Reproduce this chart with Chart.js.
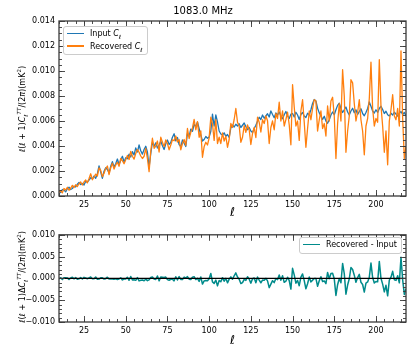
<!DOCTYPE html>
<html>
<head>
<meta charset="utf-8">
<script src="https://cdn.jsdelivr.net/npm/chart.js@4"></script>
<style>
  body { margin: 0; background: #fff; }
  #wrap { position: relative; width: 415px; height: 356px; font-family: "DejaVu Sans", sans-serif; }
  canvas { position: absolute; left: 0; }
  .leg { position: absolute; background: rgba(255,255,255,0.85); border: 1px solid #ccc; border-radius: 3px;
         padding: 1px 4px 1px 3px; font-size: 8px; color: #000; z-index: 2; }
  .leg .row { height: 12.5px; line-height: 12.5px; white-space: nowrap; }
  .leg .sw { display: inline-block; width: 17px; height: 1.6px; vertical-align: middle; margin-right: 6px; }
  .ytitle { position: absolute; width: 170px; height: 12px; line-height: 12px; text-align: center;
            font-size: 8px; color: #000; transform: rotate(-90deg); white-space: nowrap; z-index: 2; }
  sub, sup { font-size: 0.7em; line-height: 0; }
</style>
</head>
<body>
<div id="wrap">
  <canvas id="top" width="415" height="226" style="top:0"></canvas>
  <canvas id="bot" width="415" height="130" style="top:226px"></canvas>
  <div class="leg" style="left:63px;top:26px;">
    <div class="row"><span class="sw" style="background:#1f77b4"></span>Input <i>C</i><sub><i>ℓ</i></sub></div>
    <div class="row"><span class="sw" style="background:#ff7f0e"></span>Recovered <i>C</i><sub><i>ℓ</i></sub></div>
  </div>
  <div class="leg" style="left:299px;top:237px;">
    <div class="row"><span class="sw" style="background:#008b8b"></span>Recovered - Input</div>
  </div>
  <div class="ytitle" style="left:-62px;top:103px;"><i>ℓ</i>(<i>ℓ</i> + 1)<i>C</i><sub><i>ℓ</i></sub><sup><i>TT</i></sup>/(2<i>π</i>)(mK<sup>2</sup>)</div>
  <div class="ytitle" style="left:-62px;top:271px;"><i>ℓ</i>(<i>ℓ</i> + 1)Δ<i>C</i><sub><i>ℓ</i></sub><sup><i>TT</i></sup>/(2<i>π</i>)(mK<sup>2</sup>)</div>
</div>
<script>
// multipoles
const ells = [];
for (let l = 10; l <= 218; l++) ells.push(l);

// input power spectrum, l(l+1)C_l/2pi in mK^2
const inputCl = [
  0.00040, 0.00028, 0.00052, 0.00047, 0.00033, 0.00058, 0.00070, 0.00052, 0.00060, 0.00078,
  0.00072, 0.00094, 0.00108, 0.00092, 0.00101, 0.00088, 0.00118, 0.00112, 0.00128, 0.00146,
  0.00138, 0.00160, 0.00142, 0.00178, 0.00240, 0.00192, 0.00142, 0.00198, 0.00226, 0.00212,
  0.00184, 0.00238, 0.00275, 0.00232, 0.00258, 0.00296, 0.00252, 0.00286, 0.00318, 0.00272,
  0.00306, 0.00298, 0.00335, 0.00312, 0.00355, 0.00328, 0.00385, 0.00352, 0.00408, 0.00362,
  0.00335, 0.00372, 0.00398, 0.00352, 0.00230, 0.00338, 0.00430, 0.00398, 0.00425, 0.00384,
  0.00408, 0.00438, 0.00402, 0.00372, 0.00418, 0.00448, 0.00412, 0.00428, 0.00470, 0.00498,
  0.00442, 0.00468, 0.00412, 0.00395, 0.00448, 0.00422, 0.00396, 0.00500, 0.00478, 0.00535,
  0.00518, 0.00572, 0.00556, 0.00592, 0.00538, 0.00488, 0.00440, 0.00452, 0.00476, 0.00462,
  0.00472, 0.00518, 0.00655, 0.00560, 0.00648, 0.00592, 0.00520, 0.00496, 0.00488, 0.00505,
  0.00478, 0.00492, 0.00468, 0.00545, 0.00568, 0.00552, 0.00574, 0.00560, 0.00578, 0.00548,
  0.00566, 0.00584, 0.00556, 0.00530, 0.00548, 0.00520, 0.00508, 0.00540, 0.00566, 0.00598,
  0.00630, 0.00612, 0.00648, 0.00622, 0.00640, 0.00658, 0.00632, 0.00680, 0.00652, 0.00626,
  0.00664, 0.00648, 0.00672, 0.00640, 0.00618, 0.00650, 0.00676, 0.00642, 0.00620, 0.00655,
  0.00660, 0.00632, 0.00670, 0.00648, 0.00612, 0.00652, 0.00668, 0.00640, 0.00628, 0.00662,
  0.00650, 0.00690, 0.00740, 0.00772, 0.00760, 0.00702, 0.00665, 0.00640, 0.00612, 0.00638,
  0.00600, 0.00582, 0.00610, 0.00648, 0.00672, 0.00650, 0.00690, 0.00725, 0.00742, 0.00700,
  0.00668, 0.00690, 0.00712, 0.00672, 0.00648, 0.00680, 0.00702, 0.00666, 0.00690, 0.00652,
  0.00676, 0.00698, 0.00660, 0.00642, 0.00668, 0.00700, 0.00752, 0.00718, 0.00680, 0.00664,
  0.00690, 0.00668, 0.00700, 0.00718, 0.00692, 0.00660, 0.00678, 0.00650, 0.00640, 0.00662,
  0.00648, 0.00670, 0.00656, 0.00640, 0.00662, 0.00676, 0.00652, 0.00668, 0.00640
];

// recovered power spectrum
const recoveredCl = [
  0.00030, 0.00042, 0.00025, 0.00060, 0.00048, 0.00070, 0.00046, 0.00062, 0.00085, 0.00068,
  0.00090, 0.00076, 0.00098, 0.00112, 0.00088, 0.00112, 0.00128, 0.00105, 0.00140, 0.00178,
  0.00130, 0.00150, 0.00175, 0.00160, 0.00225, 0.00205, 0.00155, 0.00182, 0.00220, 0.00240,
  0.00172, 0.00225, 0.00262, 0.00215, 0.00248, 0.00270, 0.00238, 0.00300, 0.00282, 0.00258,
  0.00290, 0.00325, 0.00292, 0.00356, 0.00318, 0.00295, 0.00340, 0.00372, 0.00350, 0.00320,
  0.00300, 0.00318, 0.00380, 0.00300, 0.00195, 0.00360, 0.00462, 0.00382, 0.00400, 0.00440,
  0.00352, 0.00470, 0.00430, 0.00395, 0.00448, 0.00420, 0.00370, 0.00408, 0.00450, 0.00442,
  0.00480, 0.00432, 0.00452, 0.00370, 0.00420, 0.00452, 0.00405, 0.00540, 0.00460, 0.00510,
  0.00545, 0.00612, 0.00530, 0.00595, 0.00470, 0.00520, 0.00310, 0.00395, 0.00430, 0.00408,
  0.00465, 0.00630, 0.00575, 0.00445, 0.00610, 0.00420, 0.00470, 0.00420, 0.00505, 0.00440,
  0.00478, 0.00390, 0.00452, 0.00580, 0.00548, 0.00612, 0.00700, 0.00590, 0.00560, 0.00430,
  0.00470, 0.00562, 0.00510, 0.00568, 0.00530, 0.00412, 0.00500, 0.00548, 0.00468, 0.00630,
  0.00590, 0.00512, 0.00610, 0.00580, 0.00640, 0.00602, 0.00420, 0.00548, 0.00600, 0.00530,
  0.00660, 0.00620, 0.00750, 0.00600, 0.00680, 0.00560, 0.00612, 0.00670, 0.00570, 0.00410,
  0.00890, 0.00712, 0.00560, 0.00600, 0.00445, 0.00680, 0.00770, 0.00590, 0.00390, 0.00540,
  0.00680, 0.00610, 0.00700, 0.00770, 0.00760, 0.00520, 0.00610, 0.00680, 0.00540, 0.00580,
  0.00480, 0.00720, 0.00600, 0.00760, 0.00790, 0.00640, 0.00300, 0.00580, 0.00740, 0.00600,
  0.01010, 0.00800, 0.00350, 0.00520, 0.00640, 0.00930, 0.00905, 0.00740, 0.00600, 0.00670,
  0.00770, 0.00610, 0.00520, 0.00330, 0.00560, 0.00620, 0.00780, 0.01070, 0.00700, 0.00560,
  0.00620, 0.00590, 0.01090, 0.00720, 0.00560, 0.00350, 0.00520, 0.00250, 0.00600, 0.00690,
  0.00810, 0.00640, 0.00610, 0.00700, 0.00560, 0.01160, 0.00620, 0.00300, 0.00400
];

const xTicks = [25, 50, 75, 100, 125, 150, 175, 200];
const yTicksTop = [0, 0.002, 0.004, 0.006, 0.008, 0.010, 0.012, 0.014];
const yTicksBot = [-0.010, -0.005, 0, 0.005, 0.010];

const diff = recoveredCl.map((v, i) => v - inputCl[i]);
const pts = arr => arr.map((v, i) => ({x: ells[i], y: v}));

// matplotlib-like frame with inward ticks on all four sides
const frameTicks = {
  id: 'frameTicks',
  afterDatasetsDraw(chart, args, o) {
    const {ctx, chartArea: a, scales: {x, y}} = chart;
    ctx.save();
    if (o.zero) {
      const p = y.getPixelForValue(0);
      ctx.strokeStyle = '#000'; ctx.lineWidth = 1.2;
      ctx.beginPath(); ctx.moveTo(a.left, p); ctx.lineTo(a.right, p); ctx.stroke();
    }
    ctx.strokeStyle = '#3a3a3a'; ctx.lineWidth = 0.9;
    const mark = (s, step, len) => {
      const n0 = Math.ceil(s.min / step - 1e-6), n1 = Math.floor(s.max / step + 1e-6);
      for (let n = n0; n <= n1; n++) {
        const p = Math.round(s.getPixelForValue(n * step)) + 0.5;
        ctx.beginPath();
        if (s.isHorizontal()) {
          ctx.moveTo(p, a.bottom); ctx.lineTo(p, a.bottom - len);
          ctx.moveTo(p, a.top); ctx.lineTo(p, a.top + len);
        } else {
          ctx.moveTo(a.left, p); ctx.lineTo(a.left + len, p);
          ctx.moveTo(a.right, p); ctx.lineTo(a.right - len, p);
        }
        ctx.stroke();
      }
    };
    mark(x, 5, 3); mark(x, 25, 6);
    mark(y, o.yMinor, 3); mark(y, o.yMajor, 6);
    ctx.lineWidth = 1.3; ctx.strokeStyle = '#3a3a3a';
    ctx.strokeRect(a.left, a.top, a.right - a.left, a.bottom - a.top);
    ctx.restore();
  }
};

const fontTick = {family: 'DejaVu Sans', size: 8};
const fmtY = v => v.toFixed(3).replace('-', '\u2212');

function xScale(h, padB) {
  return {
    type: 'linear', min: 10, max: 218,
    afterBuildTicks: s => { s.ticks = xTicks.map(v => ({value: v})); },
    afterFit: s => { s.height = h; },
    grid: {display: false, drawTicks: false}, border: {display: false},
    ticks: {font: fontTick, color: '#000', padding: 4, maxRotation: 0, autoSkip: false},
    title: {display: true, text: 'ℓ', color: '#000', padding: {top: 0, bottom: padB},
            font: {family: 'DejaVu Sans', size: 12, style: 'italic'}}
  };
}
function yScale(min, max, ticks) {
  return {
    min: min, max: max,
    afterBuildTicks: s => { s.ticks = ticks.map(v => ({value: v})); },
    afterFit: s => { s.width = 59; },
    grid: {display: false, drawTicks: false}, border: {display: false},
    ticks: {font: fontTick, color: '#000', padding: 4, callback: fmtY}
  };
}

Chart.defaults.font.family = 'DejaVu Sans';

new Chart(document.getElementById('top'), {
  type: 'line',
  data: {
    datasets: [
      {label: 'Recovered C_l', data: pts(recoveredCl), borderColor: '#ff7f0e', borderWidth: 1.3, order: 0},
      {label: 'Input C_l', data: pts(inputCl), borderColor: '#1f77b4', borderWidth: 1.3, order: 1}
    ]
  },
  options: {
    responsive: false, animation: false, devicePixelRatio: 1,
    layout: {padding: {left: 0, right: 9, top: 0, bottom: 0}},
    elements: {point: {radius: 0}, line: {tension: 0, borderJoinStyle: 'round'}},
    scales: {x: xScale(30, 6), y: yScale(0, 0.014, yTicksTop)},
    plugins: {
      legend: {display: false}, tooltip: {enabled: false},
      title: {display: true, text: '1083.0 MHz', color: '#000', padding: {top: 5, bottom: 4},
              font: {family: 'DejaVu Sans', size: 10, weight: 'normal'}},
      frameTicks: {yMajor: 0.002, yMinor: 0.0005, zero: false}
    }
  },
  plugins: [frameTicks]
});

new Chart(document.getElementById('bot'), {
  type: 'line',
  data: {
    datasets: [
      {label: 'Recovered - Input', data: pts(diff), borderColor: '#008b8b', borderWidth: 1.5}
    ]
  },
  options: {
    responsive: false, animation: false, devicePixelRatio: 1,
    layout: {padding: {left: 0, right: 9, top: 6, bottom: 0}},
    elements: {point: {radius: 0}, line: {tension: 0, borderJoinStyle: 'round'}},
    scales: {x: xScale(34, 8), y: yScale(-0.010, 0.010, yTicksBot)},
    plugins: {
      legend: {display: false}, tooltip: {enabled: false},
      frameTicks: {yMajor: 0.005, yMinor: 0.001, zero: true}
    }
  },
  plugins: [frameTicks]
});
</script>
</body>
</html>
